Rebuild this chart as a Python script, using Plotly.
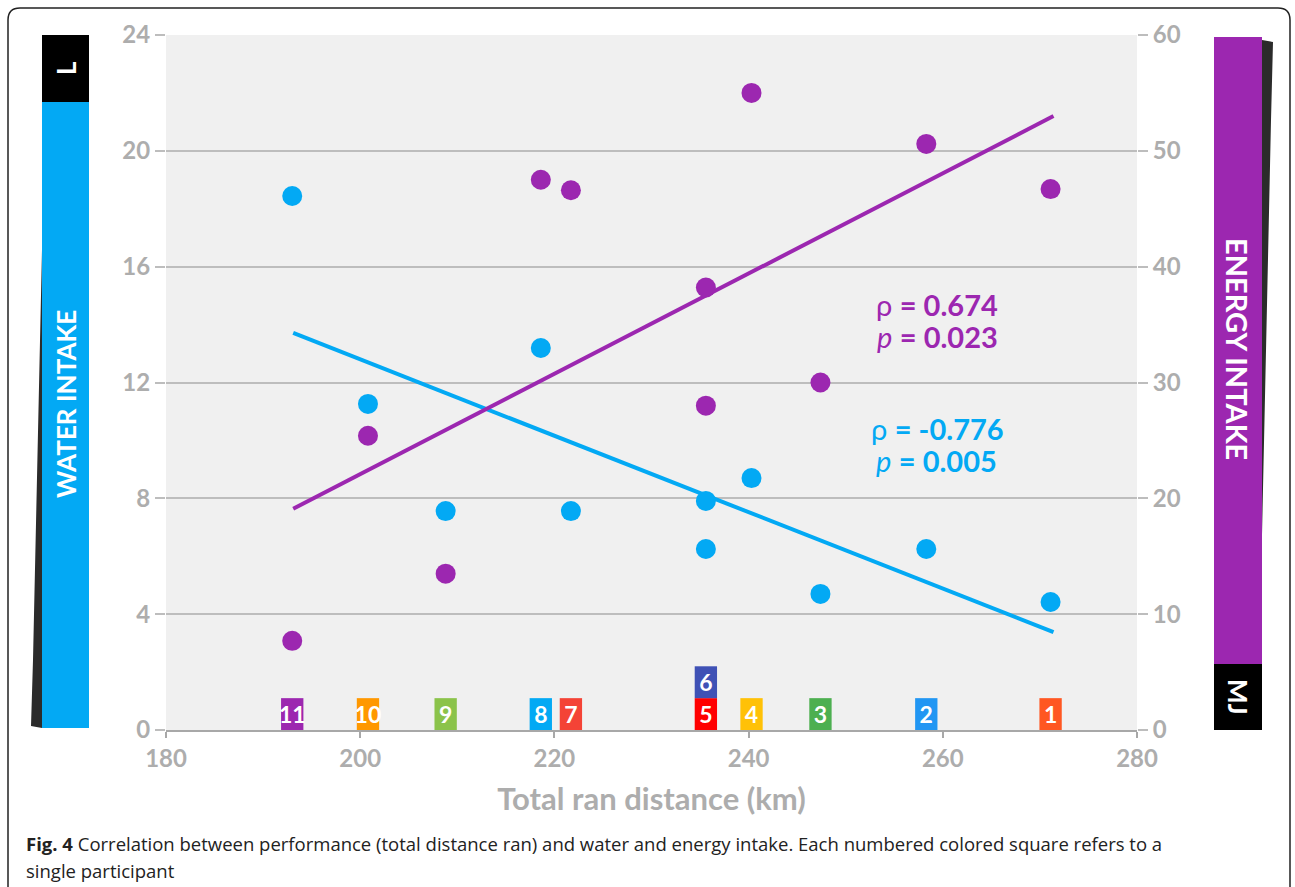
import plotly.graph_objects as go

# ---------------- data ----------------
participants = [11, 10, 9, 8, 7, 5, 6, 4, 3, 2, 1]
distance_km = [193.0, 200.8, 208.8, 218.6, 221.7, 235.6, 235.6, 240.3, 247.4, 258.3, 271.1]
water_L = [18.44, 11.26, 7.56, 13.19, 7.56, 7.91, 6.25, 8.70, 4.70, 6.25, 4.42]
energy_MJ = [7.7, 25.4, 13.5, 47.5, 46.6, 38.2, 28.0, 55.0, 30.0, 50.6, 46.7]
square_colors = ["#9C27B0", "#FF9800", "#8BC34A", "#03A9F4", "#F44336", "#FF0000",
                 "#3F51B5", "#FFC107", "#4CAF50", "#2196F3", "#FF5722"]

trend_x = [193.1, 271.4]
water_trend = [13.71, 3.38]
energy_trend = [19.1, 53.0]

x_ticks = [180, 200, 220, 240, 260, 280]
water_ticks = [0, 4, 8, 12, 16, 20, 24]
energy_ticks = [0, 10, 20, 30, 40, 50, 60]

stats_energy = ("0.674", "0.023")
stats_water = ("-0.776", "0.005")

BLUE = "#03A9F4"
PURPLE = "#9C27B0"
GREY = "#ADADAD"
GRID = "#BDBDBD"

# ---------------- layout geometry ----------------
W, H = 1295, 887
L, R, T, B = 166, 1137, 35, 730


def px(x):
    return (x - L) / (R - L)


def py(y):
    return (B - y) / (B - T)


SQ_H = 1.1  # height of a participant square in left-axis units
bases = []
seen = {}
for d in distance_km:
    k = seen.get(d, 0)
    bases.append(k * SQ_H)
    seen[d] = k + 1

fig = go.Figure()

fig.add_trace(go.Bar(
    x=distance_km, y=[SQ_H] * len(participants), base=bases, width=2.3,
    marker=dict(color=square_colors, line=dict(width=0)),
    text=[str(p) for p in participants], textposition="inside",
    insidetextanchor="middle", constraintext="none", textangle=0,
    textfont=dict(family="Lato", size=23, color="white", weight="bold"),
    hoverinfo="skip", showlegend=False, yaxis="y"))

fig.add_trace(go.Scatter(x=trend_x, y=water_trend, mode="lines",
                         line=dict(color=BLUE, width=4), showlegend=False, yaxis="y"))
fig.add_trace(go.Scatter(x=distance_km, y=water_L, mode="markers",
                         marker=dict(color=BLUE, size=20), showlegend=False, yaxis="y"))
fig.add_trace(go.Scatter(x=trend_x, y=energy_trend, mode="lines",
                         line=dict(color=PURPLE, width=4), showlegend=False, yaxis="y2"))
fig.add_trace(go.Scatter(x=distance_km, y=energy_MJ, mode="markers",
                         marker=dict(color=PURPLE, size=20), showlegend=False, yaxis="y2"))

tickfont = dict(family="Lato", size=24, color=GREY, weight="bold")

fig.update_layout(
    width=W, height=H,
    margin=dict(l=L, r=W - R, t=T, b=H - B),
    paper_bgcolor="white", plot_bgcolor="#F0F0F0",
    showlegend=False,
    xaxis=dict(range=[180, 280], tickvals=x_ticks, showgrid=False, zeroline=False,
               showline=True, linecolor="#A8A8A8", linewidth=2,
               ticks="outside", ticklen=6, tickcolor="#A8A8A8", tickwidth=1.5,
               tickfont=tickfont,
               title=dict(text="Total ran distance (km)",
                          font=dict(family="Lato", size=31, color=GREY, weight="bold"),
                          standoff=18)),
    yaxis=dict(range=[0, 24], tickvals=water_ticks, showgrid=True, gridcolor=GRID,
               gridwidth=1.5, zeroline=False, ticks="outside", ticklen=10,
               tickcolor=GRID, tickwidth=1.5, tickfont=tickfont),
    yaxis2=dict(range=[0, 60], tickvals=energy_ticks, overlaying="y", side="right",
                showgrid=False, zeroline=False, ticks="outside", ticklen=10,
                tickcolor=GRID, tickwidth=1.5, tickfont=tickfont),
)

shapes = []
# outer rounded frame
r = 12
x0, y0, x1, y1 = 8, 8, 1290, 900
path = (f"M {px(x0 + r)},{py(y0)} L {px(x1 - r)},{py(y0)} "
        f"Q {px(x1)},{py(y0)} {px(x1)},{py(y0 + r)} L {px(x1)},{py(y1)} "
        f"L {px(x0)},{py(y1)} L {px(x0)},{py(y0 + r)} "
        f"Q {px(x0)},{py(y0)} {px(x0 + r)},{py(y0)}")
shapes.append(dict(type="path", xref="paper", yref="paper", path=path,
                   line=dict(color="#222", width=1.5), layer="below"))

# shadows of side bands
shapes.append(dict(type="path", xref="paper", yref="paper",
                   path=f"M {px(42)},{py(250)} L {px(42)},{py(728)} L {px(31)},{py(726)} L {px(33)},{py(660)} Z",
                   fillcolor="#2b2b2b", line=dict(width=0)))
shapes.append(dict(type="path", xref="paper", yref="paper",
                   path=f"M {px(1262)},{py(40)} L {px(1273)},{py(42)} L {px(1271)},{py(120)} L {px(1262)},{py(535)} Z",
                   fillcolor="#2b2b2b", line=dict(width=0)))


def rect(xa, ya, xb, yb, color):
    return dict(type="rect", xref="paper", yref="paper", x0=px(xa), x1=px(xb),
                y0=py(yb), y1=py(ya), fillcolor=color, line=dict(width=0))


shapes.append(rect(42, 35, 89, 102, "black"))
shapes.append(rect(42, 102, 89, 728, BLUE))
shapes.append(rect(1214, 37, 1262, 664, PURPLE))
shapes.append(rect(1214, 664, 1262, 730, "black"))
fig.update_layout(shapes=shapes)

ann = []


def label(text, x, y, size, angle, color="white", weight="bold", family="Lato"):
    ann.append(dict(text=text, x=px(x), y=py(y), xref="paper", yref="paper",
                    showarrow=False, textangle=angle, xanchor="center", yanchor="middle",
                    font=dict(family=family, size=size, color=color, weight=weight)))


label("L", 66, 68, 26, -90)
label("WATER INTAKE", 66, 404, 26, -90)
label("ENERGY INTAKE", 1238, 349, 29, 90)
label("MJ", 1238, 697, 26, 90)

label(f"ρ <b>= {stats_energy[0]}</b>", 937, 304, 29, 0, color=PURPLE, weight="normal")
label(f"<i>p</i> <b>= {stats_energy[1]}</b>", 937, 336, 29, 0, color=PURPLE, weight="normal")
label(f"ρ <b>= {stats_water[0]}</b>", 937, 428, 29, 0, color=BLUE, weight="normal")
label(f"<i>p</i> <b>= {stats_water[1]}</b>", 936, 460, 29, 0, color=BLUE, weight="normal")

for text, y in [("<b>Fig. 4</b> Correlation between performance (total distance ran) and water and energy intake. "
                 "Each numbered colored square refers to a", 843),
                ("single participant", 870)]:
    ann.append(dict(text=text, x=px(24), y=py(y), xref="paper", yref="paper",
                    showarrow=False, xanchor="left", yanchor="middle", align="left",
                    font=dict(family="Open Sans", size=18.5, color="#222")))

fig.update_layout(annotations=ann)

fig.write_html("out.html", config={"displayModeBar": False},
               post_script="document.body.style.margin='0px';")
